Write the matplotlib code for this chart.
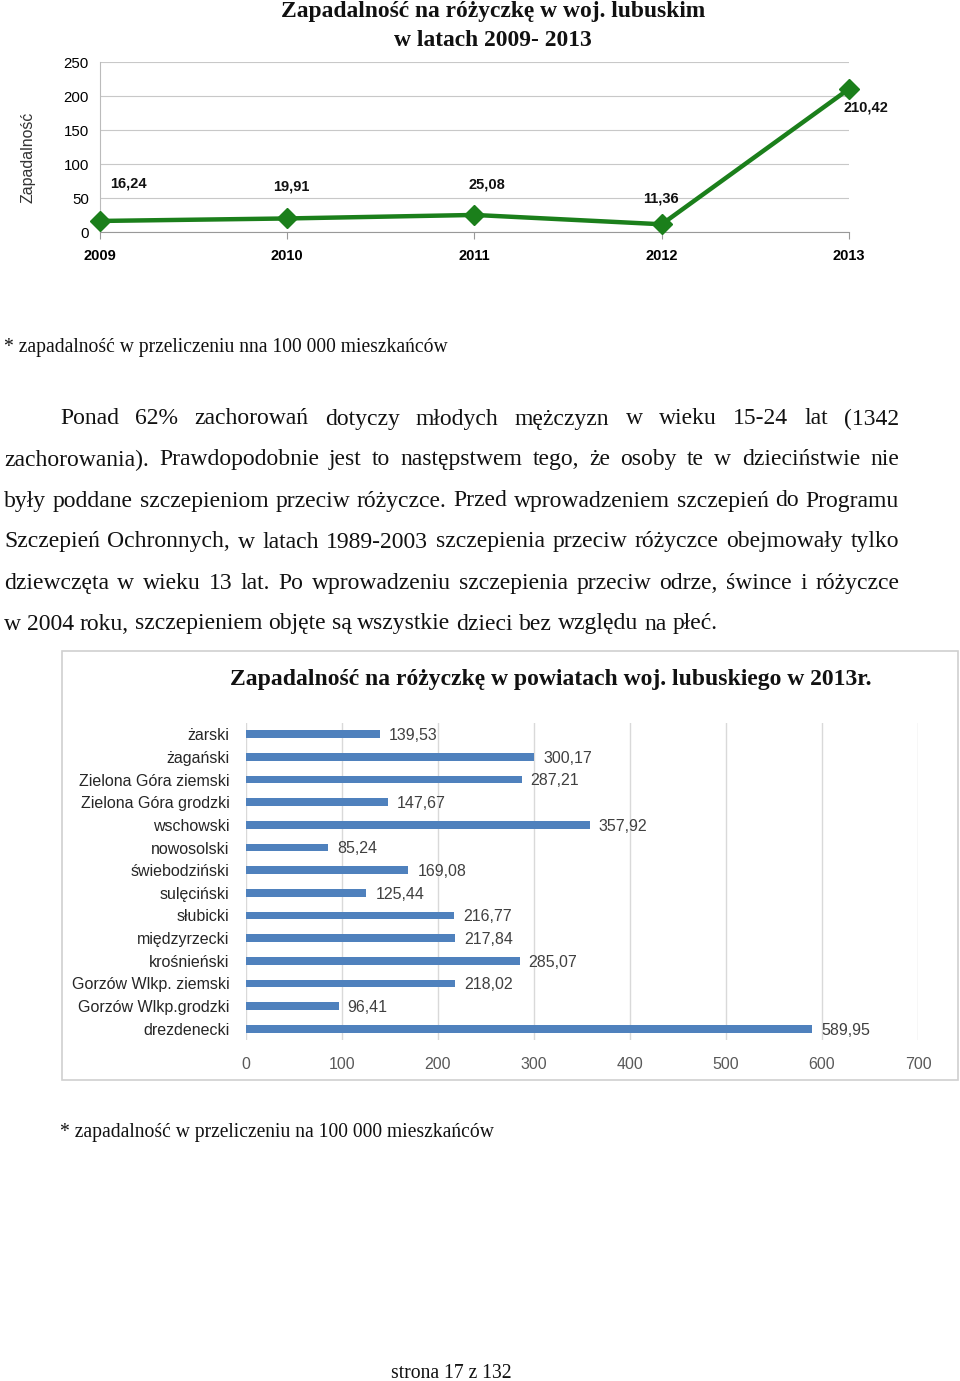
import matplotlib

matplotlib.use("Agg")
import matplotlib.pyplot as plt
from matplotlib.patches import Rectangle

W, H = 960, 1381

SERIF = ["Liberation Serif", "DejaVu Serif"]
SANS = ["Liberation Sans", "DejaVu Sans"]
NARROW = ["Liberation Sans Narrow", "Liberation Sans", "DejaVu Sans"]

# data: incidence 2009-2013
years = ["2009", "2010", "2011", "2012", "2013"]
incidence = [16.24, 19.91, 25.08, 11.36, 210.42]

# data: districts 2013
districts = [
  "żarski", "żagański", "Zielona Góra ziemski", "Zielona Góra grodzki",
  "wschowski", "nowosolski", "świebodziński", "sulęciński", "słubicki",
  "międzyrzecki", "krośnieński", "Gorzów Wlkp. ziemski", "Gorzów Wlkp.grodzki",
  "drezdenecki",
]
district_values = [139.53, 300.17, 287.21, 147.67, 357.92, 85.24, 169.08,
                   125.44, 216.77, 217.84, 285.07, 218.02, 96.41, 589.95]
bar_ticks = [0, 100, 200, 300, 400, 500, 600, 700]
line_ticks = [0, 50, 100, 150, 200, 250]

paragraph = [
  "Ponad 62% zachorowań dotyczy młodych mężczyzn w wieku 15-24 lat (1342",
  "zachorowania). Prawdopodobnie jest to następstwem tego, że osoby te w dzieciństwie nie",
  "były poddane szczepieniom przeciw różyczce. Przed wprowadzeniem szczepień do Programu",
  "Szczepień Ochronnych, w latach 1989-2003 szczepienia przeciw różyczce obejmowały tylko",
  "dziewczęta w wieku 13 lat. Po wprowadzeniu szczepienia przeciw odrze, śwince i różyczce",
  "w 2004 roku, szczepieniem objęte są wszystkie dzieci bez względu na płeć.",
]


def rect(l, t, r, b):
  return [l / W, 1 - b / H, (r - l) / W, (b - t) / H]


def fmt(v):
  return f"{v:.2f}".replace(".", ",")


def ftext(fig, x, y, s, **kw):
  return fig.text(x / W, 1 - y / H, s, **kw)


fig = plt.figure(figsize=(W / 100, H / 100), dpi=100)
fig.patch.set_facecolor("white")

# ---- line chart ----
ftext(fig, 493, 11, "Zapadalność na różyczkę w woj. lubuskim", ha="center", va="center",
      family=SERIF, fontweight="bold", fontsize=16.9, color="#111111")
ftext(fig, 493, 40, "w latach 2009- 2013", ha="center", va="center",
      family=SERIF, fontweight="bold", fontsize=16.9, color="#111111")

ax1 = fig.add_axes(rect(100, 62, 849, 232))
x = list(range(len(years)))
ax1.plot(x, incidence, color="#1B7F1B", linewidth=3.2, marker="D", markersize=10,
         markeredgecolor="#1B7F1B", clip_on=False, zorder=3)
ax1.set_xlim(0, len(years) - 1)
ax1.set_ylim(0, 250)
ax1.set_yticks(line_ticks)
ax1.set_yticklabels([str(t) for t in line_ticks], family=SANS, fontsize=10.8)
ax1.set_xticks(x)
ax1.set_xticklabels(years, family=SANS, fontsize=10.5, fontweight="bold")
ax1.tick_params(axis="y", length=0, pad=8)
ax1.tick_params(axis="x", length=5, color="#999999", pad=7)
ax1.grid(axis="y", color="#C8C8C8", linewidth=0.8)
ax1.set_axisbelow(True)
for s in ("top", "right"):
  ax1.spines[s].set_visible(False)
ax1.spines["left"].set_color("#BBBBBB")
ax1.spines["bottom"].set_color("#999999")
ax1.set_ylabel("Zapadalność", family=SANS, fontsize=11.4, color="#333333")
ax1.yaxis.set_label_coords((35 - 100) / 749, (232 - 157) / 170)

label_offsets = [(28, 37), (4, 32), (12, 30), (-1, 26), (17, -19)]
for xi, (v, off) in enumerate(zip(incidence, label_offsets)):
  ax1.annotate(fmt(v), (xi, v), xytext=(off[0] * 0.72, off[1] * 0.72), textcoords="offset points",
               ha="center", va="center", family=SANS, fontsize=10.5, fontweight="bold",
               color="#111111", annotation_clip=False)

# ---- footnote & paragraph ----
ftext(fig, 4, 348, "* zapadalność w przeliczeniu nna 100 000 mieszkańców", ha="left", va="center",
      family=SERIF, fontsize=14.1, color="#111111")

renderer = fig.canvas.get_renderer()
line_y = [419, 460, 501, 542, 583, 624]
right_edge = 899
body_size = 17
for i, line in enumerate(paragraph):
  words = line.split()
  x0 = 60 if i == 0 else 4
  texts = [ftext(fig, 0, line_y[i], w, ha="left", va="center", family=SERIF,
                 fontsize=body_size, color="#111111") for w in words]
  widths = [t.get_window_extent(renderer).width for t in texts]
  if i < len(paragraph) - 1:
    gap = (right_edge - x0 - sum(widths)) / (len(words) - 1)
  else:
    gap = 0.25 * body_size * 100 / 72
  xp = x0
  for t, w in zip(texts, widths):
    t.set_x(xp / W)
    xp += w + gap

# ---- bar chart ----
fig.patches.append(Rectangle((62 / W, 1 - 1080 / H), (958 - 62) / W, (1080 - 651) / H,
                             transform=fig.transFigure, fill=False, edgecolor="#D0D0D0",
                             linewidth=1.2))
ftext(fig, 551, 679, "Zapadalność na różyczkę w powiatach woj. lubuskiego w 2013r.",
      ha="center", va="center", family=SERIF, fontweight="bold", fontsize=17, color="#111111")

ax2 = fig.add_axes(rect(246, 723, 918, 1040))
yb = list(range(len(districts)))
ax2.barh(yb, district_values, height=0.34, color="#4F81BD", zorder=3)
ax2.set_xlim(0, 700)
ax2.set_ylim(len(districts) - 0.5, -0.5)
ax2.set_xticks(bar_ticks)
ax2.set_xticklabels([str(t) for t in bar_ticks], family=NARROW, fontsize=11.5, color="#595959")
ax2.set_yticks(yb)
ax2.set_yticklabels(districts, family=NARROW, fontsize=11.5, color="#262626")
ax2.tick_params(axis="both", length=0)
ax2.tick_params(axis="x", pad=12)
ax2.tick_params(axis="y", pad=12)
ax2.grid(axis="x", color="#D9D9D9", linewidth=1.0)
ax2.set_axisbelow(True)
for s in ax2.spines.values():
  s.set_visible(False)
for yi, v in zip(yb, district_values):
  ax2.annotate(fmt(v), (v, yi), xytext=(6.5, -1), textcoords="offset points", ha="left",
               va="center", family=NARROW, fontsize=11.5, color="#404040")

ftext(fig, 60, 1133, "* zapadalność w przeliczeniu na 100 000 mieszkańców", ha="left", va="center",
      family=SERIF, fontsize=14.1, color="#111111")
ftext(fig, 451, 1373, "strona 17 z 132", ha="center", va="center", family=SERIF,
      fontsize=14.1, color="#111111")

fig.savefig("out.png", dpi=100)
